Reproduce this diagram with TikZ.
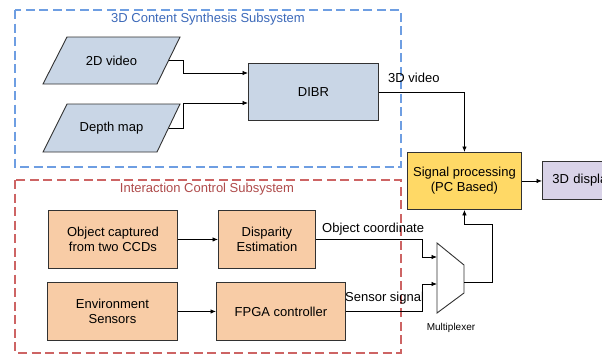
\documentclass[tikz,border=0pt]{standalone}
\usepackage{fontspec}
\setmainfont{Liberation Sans}
\usetikzlibrary{arrows.meta}
\definecolor{bluefill}{RGB}{201,214,230}
\definecolor{orangefill}{RGB}{248,204,166}
\definecolor{yellowfill}{RGB}{255,217,102}
\definecolor{lavfill}{RGB}{217,211,232}
\definecolor{bluedash}{RGB}{110,158,226}
\definecolor{bluetext}{RGB}{60,105,185}
\definecolor{reddash}{RGB}{205,100,100}
\definecolor{redtext}{RGB}{175,75,75}
\definecolor{edge}{RGB}{50,50,50}
\tikzset{
  lbl/.style={font=\fontsize{13}{15}\selectfont, inner sep=0pt},
  blk/.style={draw=edge, line width=0.9pt, font=\fontsize{13}{15}\selectfont, align=center, inner sep=0pt, anchor=north west},
  parashape/.style={draw=edge, line width=0.9pt, fill=bluefill},
  paratext/.style={font=\fontsize{13}{15}\selectfont, inner sep=0pt, minimum width=114pt, minimum height=47pt},
  conn/.style={draw=black, line width=0.8pt, -{Latex[length=5.5pt,width=4.5pt]}},
  group/.style={line width=2pt, dash pattern=on 9pt off 4.5pt},
}
\begin{document}
\begin{tikzpicture}[x=1pt,y=-1pt]
\useasboundingbox (0,0) rectangle (602,354);
\clip (0,0) rectangle (602,354);
\fill[white] (0,0) rectangle (602,354);

% group boxes
\draw[group, draw=bluedash] (15,10) rectangle (401,167);
\node[lbl, text=bluetext] (t1) at (208,19) {3D Content Synthesis Subsystem};
\draw[group, draw=reddash] (15,180) rectangle (401,352.5);
\node[lbl, text=redtext] (t2) at (207,189) {Interaction Control Subsystem};

% top subsystem
\draw[parashape] (67,37) -- (180,37) -- (157,84) -- (43,84) -- cycle;
\node[paratext] (v2d) at (111.5,60.5) {2D video};
\draw[parashape] (67,104) -- (180,104) -- (157,152) -- (43,152) -- cycle;
\node[paratext] (dep) at (111.5,128) {Depth map};
\node[blk, fill=bluefill, minimum width=130pt, minimum height=57pt] (dibr) at (248,63) {DIBR};

% signal processing and display
\node[blk, fill=yellowfill, minimum width=114pt, minimum height=57pt] (sp) at (407,152) {Signal processing\\(PC Based)};
\node[blk, fill=lavfill, minimum width=100pt, minimum height=38pt, align=left, text width=90pt] (disp) at (542,161) {\hspace*{5pt}3D display};

% interaction subsystem
\node[blk, fill=orangefill, minimum width=129pt, minimum height=58pt] (obj) at (48,210) {Object captured\\from two CCDs};
\node[blk, fill=orangefill, minimum width=97pt, minimum height=58pt] (dis) at (218,210) {Disparity\\Estimation};
\node[blk, fill=orangefill, minimum width=130pt, minimum height=58pt] (env) at (47,282) {Environment\\Sensors};
\node[blk, fill=orangefill, minimum width=129pt, minimum height=58pt] (fpga) at (216,282) {FPGA controller};

% multiplexer
\draw[draw=edge, line width=0.9pt, fill=white] (437,243) -- (464,265) -- (464,293) -- (437,313) -- cycle;
\coordinate (muxa) at (437,257);
\coordinate (muxb) at (437,284);
\coordinate (muxo) at (464,282);
\node[font=\fontsize{10}{12}\selectfont, inner sep=0pt] (muxl) at (451,328) {Multiplexer};

% connectors
\draw[conn] (v2d.east) -| (183,73) -- (dibr.west |- 0,73);
\draw[conn] (dep.east) -| (183,103) -- (dibr.west |- 0,103);
\draw[conn] (dibr.east) -| (sp.north);
\draw[conn] (sp.east) -- (disp.west |- sp.east);
\draw[conn] (obj.east) -- (dis.west |- obj.east);
\draw[conn] (env.east) -- (fpga.west |- env.east);
\draw[conn] (dis.east) -| (422,257) -- (muxa);
\draw[conn] (fpga.east) -| (422,284) -- (muxb);
\draw[conn] (muxo) -| (492,224) -| (sp.south);

% labels
\node[lbl, anchor=west] (l3d) at (388,78) {3D video};
\node[lbl, anchor=west] (loc) at (322,229) {Object coordinate};
\node[lbl, anchor=west] (lss) at (345,298) {Sensor signal};
\end{tikzpicture}
\end{document}
